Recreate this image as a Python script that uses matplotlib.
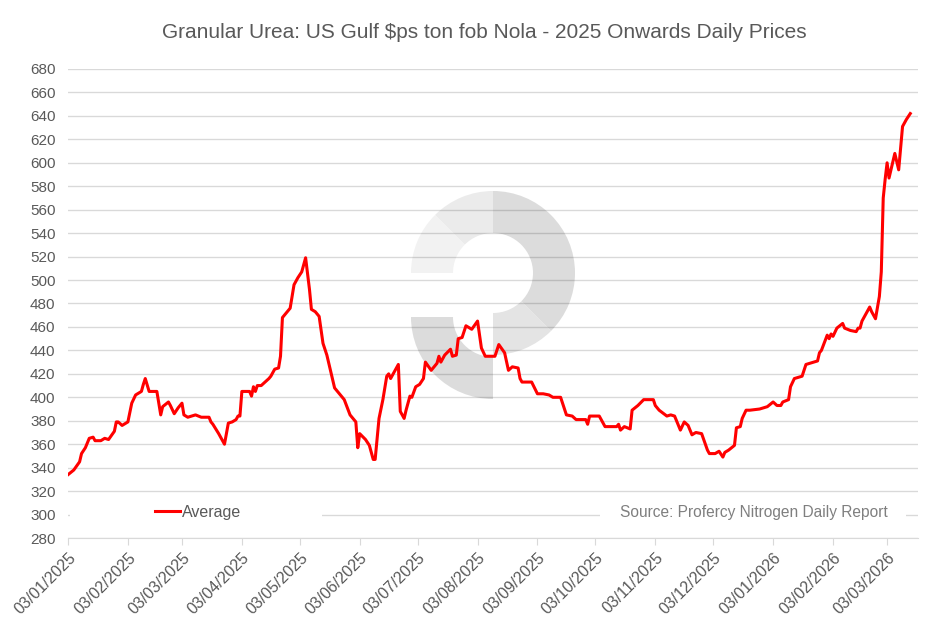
import matplotlib
matplotlib.use('Agg')
import matplotlib.pyplot as plt
import matplotlib.dates as mdates
from matplotlib.patches import Wedge, Rectangle
import pandas as pd

# values
dates = [
    '2025-01-03', '2025-01-06', '2025-01-09', '2025-01-10', '2025-01-12', '2025-01-14', '2025-01-16',
    '2025-01-17', '2025-01-20', '2025-01-22', '2025-01-24', '2025-01-27', '2025-01-28', '2025-01-29',
    '2025-01-31', '2025-02-03', '2025-02-05', '2025-02-07', '2025-02-10', '2025-02-11', '2025-02-12',
    '2025-02-14', '2025-02-18', '2025-02-20', '2025-02-21', '2025-02-24', '2025-02-25', '2025-02-27',
    '2025-03-01', '2025-03-03', '2025-03-04', '2025-03-06', '2025-03-10', '2025-03-13', '2025-03-17',
    '2025-03-18', '2025-03-19', '2025-03-22', '2025-03-25', '2025-03-27', '2025-03-29', '2025-03-31',
    '2025-04-01', '2025-04-02', '2025-04-03', '2025-04-07', '2025-04-08', '2025-04-09', '2025-04-10',
    '2025-04-11', '2025-04-13', '2025-04-15', '2025-04-17', '2025-04-18', '2025-04-20', '2025-04-22',
    '2025-04-23', '2025-04-24', '2025-04-26', '2025-04-28', '2025-04-30', '2025-05-02', '2025-05-04',
    '2025-05-06', '2025-05-08', '2025-05-09', '2025-05-11', '2025-05-13', '2025-05-15', '2025-05-17',
    '2025-05-19', '2025-05-21', '2025-05-23', '2025-05-26', '2025-05-29', '2025-06-01', '2025-06-02',
    '2025-06-03', '2025-06-06', '2025-06-08', '2025-06-10', '2025-06-11', '2025-06-13', '2025-06-15',
    '2025-06-17', '2025-06-18', '2025-06-19', '2025-06-23', '2025-06-24', '2025-06-26', '2025-06-27',
    '2025-06-29', '2025-06-30', '2025-07-02', '2025-07-04', '2025-07-06', '2025-07-07', '2025-07-10',
    '2025-07-13', '2025-07-14', '2025-07-15', '2025-07-17', '2025-07-20', '2025-07-21', '2025-07-23',
    '2025-07-24', '2025-07-26', '2025-07-28', '2025-07-29', '2025-07-31', '2025-08-03', '2025-08-05',
    '2025-08-07', '2025-08-12', '2025-08-14', '2025-08-17', '2025-08-19', '2025-08-21', '2025-08-24',
    '2025-08-25', '2025-08-26', '2025-08-31', '2025-09-03', '2025-09-06', '2025-09-09', '2025-09-11',
    '2025-09-15', '2025-09-18', '2025-09-21', '2025-09-23', '2025-09-28', '2025-09-29', '2025-09-30',
    '2025-10-05', '2025-10-08', '2025-10-14', '2025-10-15', '2025-10-16', '2025-10-18', '2025-10-21',
    '2025-10-22', '2025-10-25', '2025-10-28', '2025-11-02', '2025-11-03', '2025-11-05', '2025-11-09',
    '2025-11-11', '2025-11-13', '2025-11-16', '2025-11-18', '2025-11-20', '2025-11-22', '2025-11-24',
    '2025-11-27', '2025-11-30', '2025-12-01', '2025-12-04', '2025-12-06', '2025-12-08', '2025-12-09',
    '2025-12-11', '2025-12-14', '2025-12-15', '2025-12-17', '2025-12-18', '2025-12-20', '2025-12-22',
    '2025-12-27', '2025-12-31', '2026-01-03', '2026-01-05', '2026-01-07', '2026-01-08', '2026-01-11',
    '2026-01-12', '2026-01-14', '2026-01-18', '2026-01-20', '2026-01-26', '2026-01-27', '2026-01-28',
    '2026-01-31', '2026-02-01', '2026-02-02', '2026-02-03', '2026-02-05', '2026-02-08', '2026-02-09',
    '2026-02-12', '2026-02-15', '2026-02-16', '2026-02-17', '2026-02-18', '2026-02-22', '2026-02-23',
    '2026-02-25', '2026-02-27', '2026-02-28', '2026-03-01', '2026-03-02', '2026-03-03', '2026-03-04',
    '2026-03-07', '2026-03-09', '2026-03-11', '2026-03-13', '2026-03-15',
]
prices = [
    334, 338, 345, 352, 357, 365, 366,
    363, 363, 365, 364, 371, 379, 379,
    376, 379, 395, 402, 405, 411, 416,
    405, 405, 385, 392, 396, 393, 386,
    391, 395, 385, 383, 385, 383, 383,
    379, 377, 369, 360, 378, 379, 381,
    384, 384, 405, 405, 401, 409, 405,
    410, 410, 413, 416, 418, 424, 425,
    435, 468, 472, 476, 496, 502, 507,
    519, 492, 475, 473, 469, 446, 436,
    422, 408, 404, 398, 385, 379, 357,
    369, 364, 359, 347, 347, 382, 398,
    418, 420, 416, 428, 388, 382, 389,
    401, 400, 409, 411, 416, 430, 423,
    429, 435, 430, 436, 441, 435, 436,
    450, 451, 461, 460, 458, 465, 442,
    435, 435, 445, 438, 423, 426, 425,
    416, 413, 413, 403, 403, 402, 400,
    400, 385, 384, 381, 381, 377, 384,
    384, 375, 375, 377, 372, 375, 373,
    389, 393, 398, 398, 393, 389, 384,
    385, 384, 372, 379, 376, 368, 370,
    369, 355, 352, 352, 354, 349, 353,
    355, 359, 374, 375, 382, 389, 389,
    390, 392, 396, 393, 393, 396, 398,
    409, 416, 418, 428, 431, 438, 440,
    453, 450, 454, 452, 459, 463, 459,
    457, 456, 459, 459, 465, 477, 473,
    467, 486, 507, 570, 586, 600, 587,
    608, 594, 631, 637, 642,
]
y_ticks = list(range(280, 700, 20))

title = 'Granular Urea: US Gulf $ps ton fob Nola - 2025 Onwards Daily Prices'
source = 'Source: Profercy Nitrogen Daily Report'

plt.rcParams['font.family'] = ['Liberation Sans', 'DejaVu Sans']
grey = '#595959'

x = pd.to_datetime(dates)

fig = plt.figure(figsize=(9.36, 6.17), dpi=100)

# watermark logo drawn in pixel space behind the plot
wm = fig.add_axes([0, 0, 1, 1], zorder=0)
wm.set_xlim(0, 936)
wm.set_ylim(0, 617)
wm.axis('off')
cx, cy = 493, 344
r_out, r_in = 82, 40
segs = [(-90, -45, '#e4e4e4'), (-45, 0, '#dcdcdc'), (0, 90, '#dcdcdc'),
        (90, 135, '#ebebeb'), (135, 180, '#f2f2f2')]
for t1, t2, c in segs:
    wm.add_patch(Wedge((cx, cy), r_out, t1, t2, width=r_out - r_in, color=c, lw=0))
wm.add_patch(Wedge((cx, cy - 44), r_out, 180, 270, width=r_out - r_in, color='#dcdcdc', lw=0))

ax = fig.add_axes([68 / 936, 1 - 538 / 617, (918 - 68) / 936, (538 - 69) / 617], zorder=1)
ax.patch.set_visible(False)

ax.plot(x, prices, color='#ff0000', lw=2.2, label='Average', zorder=3)

ax.set_ylim(280, 680)
ax.set_yticks(y_ticks)
ax.set_xlim(pd.Timestamp('2025-01-03'), pd.Timestamp('2026-03-19'))
ax.xaxis.set_major_locator(mdates.MonthLocator(bymonthday=3))
ax.xaxis.set_major_formatter(mdates.DateFormatter('%d/%m/%Y'))
ax.grid(axis='y', color='black', alpha=0.15, lw=1, zorder=1)
ax.set_axisbelow(True)
for s in ['left', 'right', 'top']:
    ax.spines[s].set_visible(False)
ax.spines['bottom'].set_color('#d9d9d9')
ax.tick_params(axis='y', length=0, labelsize=11, labelcolor=grey, pad=9)
ax.tick_params(axis='x', length=5, color='#d9d9d9', labelsize=11.5, labelcolor=grey)
for lbl in ax.get_xticklabels():
    lbl.set_rotation(45)
    lbl.set_ha('right')
    lbl.set_va('top')
    lbl.set_rotation_mode('anchor')

# white boxes behind legend and source text
ax.add_patch(Rectangle((0.002, 0.025), 0.297, 0.06, transform=ax.transAxes,
                       facecolor='white', edgecolor='none', zorder=2))
leg = ax.legend(loc='center left', bbox_to_anchor=((155 - 68) / 850, 0.055), frameon=False,
                handlelength=1.55, handletextpad=0.15, borderaxespad=0, borderpad=0,
                fontsize=11.5)
for t in leg.get_texts():
    t.set_color(grey)
ax.add_patch(Rectangle(((600 - 68) / 850, 0.025), (906 - 600) / 850, 0.06, transform=ax.transAxes,
                       facecolor='white', edgecolor='none', zorder=2))
ax.text((888 - 68) / 850, 0.055, source, transform=ax.transAxes, ha='right', va='center',
        fontsize=11.2, color='#7f7f7f', zorder=4)

fig.text(484 / 936, 1 - 33 / 617, title, ha='center', va='center', fontsize=15, color=grey)

fig.savefig('out.png', dpi=100)
